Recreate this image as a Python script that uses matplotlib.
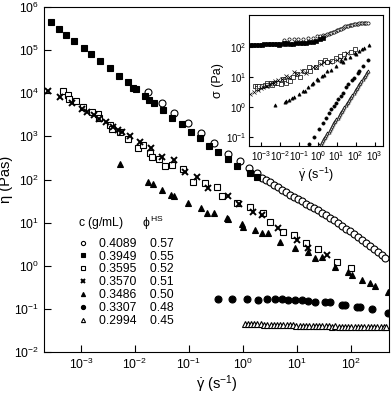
import numpy as np
import matplotlib.pyplot as plt

plt.rcParams['font.family'] = ['Liberation Sans', 'DejaVu Sans']
plt.rcParams['mathtext.fontset'] = 'custom'
plt.rcParams['mathtext.rm'] = 'Liberation Sans'
plt.rcParams['mathtext.it'] = 'Liberation Sans'

# concentrations and hard-sphere volume fractions
conc = ['0.4089', '0.3949', '0.3595', '0.3570', '0.3486', '0.3307', '0.2994']
phi_hs = ['0.57', '0.55', '0.52', '0.51', '0.50', '0.48', '0.45']

# shear rate (1/s) and viscosity (Pa s)
rate_4089 = [0.0172, 0.0312, 0.0535, 0.0946, 0.165, 0.29, 0.535, 0.88, 1.29, 1.84,
             2.25, 2.67, 3.16, 3.75, 4.45, 5.27, 6.25, 7.41, 8.79, 10.4, 12.4, 14.7,
             17.4, 20.6, 24.5, 29.0, 34.4, 40.8, 48.4, 57.4, 68.1, 80.7, 95.7, 114,
             135, 160, 190, 225, 267, 316, 375, 427]
eta_4089 = [1.05e4, 6.0e3, 3.47e3, 2.0e3, 1.17e3, 689, 388, 267, 181, 139,
            108, 96.8, 87.1, 76.2, 66.7, 58.4, 51.1, 44.7, 39.1, 35.1, 31.5, 27.6,
            24.1, 21.7, 19.5, 17.1, 14.9, 13.1, 11.4, 9.73, 8.29, 7.26, 6.35, 5.41,
            4.61, 3.93, 3.34, 2.85, 2.43, 2.07, 1.76, 1.50]

rate_3949 = [2.75e-4, 3.9e-4, 5.4e-4, 7.6e-4, 1.12e-3, 1.53e-3, 2.3e-3, 3.4e-3, 5.1e-3,
             7.3e-3, 9.1e-3, 1.06e-2, 1.55e-2, 1.84e-2, 2.28e-2, 3.26e-2, 4.9e-2, 7.5e-2,
             0.109, 0.16, 0.238, 0.35, 0.535, 0.78, 1.35, 1.8]
eta_3949 = [4.4e5, 3.1e5, 2.24e5, 1.63e5, 1.1e5, 8.2e4, 5.6e4, 3.8e4, 2.55e4,
            1.79e4, 1.32e4, 1.25e4, 8.7e3, 6.95e3, 6.0e3, 4.07e3, 2.6e3, 1.93e3,
            1.26e3, 900, 605, 440, 292, 205, 139, 112]

rate_3595 = [4.58e-4, 5.82e-4, 6.0e-4, 8.07e-4, 1.10e-3, 1.58e-3, 2.09e-3, 2.18e-3,
             3.44e-3, 3.71e-3, 5.27e-3, 7.52e-3, 1.15e-2, 1.43e-2, 1.90e-2, 2.04e-2,
             2.78e-2, 3.60e-2, 4.79e-2, 7.83e-2, 0.120, 0.198, 0.326, 0.404, 0.783,
             1.35, 2.32, 3.16, 5.57, 8.91, 14.7, 24.8, 55.7, 98.6]
eta_3595 = [1.12e4, 9.08e3, 7.45e3, 6.59e3, 4.86e3, 3.66e3, 3.24e3, 2.62e3,
            1.83e3, 1.48e3, 1.28e3, 851, 543, 628, 403, 326,
            293, 205, 216, 171, 88.5, 81.3, 67.7, 41.2, 28.8,
            23.3, 16.3, 10.4, 6.12, 5.13, 3.40, 2.39, 1.23, 0.865]

rate_3570 = [2.48e-4, 4.08e-4, 6.7e-4, 1.06e-3, 1.28e-3, 1.74e-3, 2.15e-3, 2.86e-3,
             3.96e-3, 4.79e-3, 5.82e-3, 8.07e-3, 1.24e-2, 1.98e-2, 3.12e-2, 5.27e-2,
             8.43e-2, 0.139, 0.228, 0.535, 0.853, 1.55, 2.22, 4.51, 9.87, 16.2, 36.4]
eta_3570 = [1.12e4, 8.3e3, 5.83e3, 4.23e3, 3.72e3, 3.07e3, 2.48e3, 2.11e3,
            1.67e3, 1.40e3, 1.28e3, 1.02e3, 738, 543, 336, 282,
            151, 116, 62.2, 41.2, 26.4, 17.8, 14.9, 7.33, 3.93, 2.52, 1.76]

rate_3486 = [5.27e-3, 1.76e-2, 2.13e-2, 3.12e-2, 4.58e-2, 5.27e-2, 9.7e-2, 0.167, 0.213,
             0.290, 0.499, 0.535, 0.946, 1.01, 1.67, 2.22, 2.94, 4.84, 9.18, 16.2,
             21.5, 28.6, 50.6, 89.1, 103, 158, 225, 278, 484]
eta_3486 = [224, 88.5, 76.9, 56.8, 43.4, 41.2, 27.9, 21.7, 16.9,
            16.9, 12.5, 11.9, 9.22, 8.0, 6.7, 5.61, 5.61, 3.59, 2.52, 2.10,
            1.48, 1.61, 0.942, 0.721, 0.605, 0.463, 0.388, 0.336, 0.248]

rate_3307 = [0.349, 0.618, 1.17, 1.92, 2.75, 3.92, 5.21, 6.90, 9.18, 12.2, 16.2, 21.5,
             33.0, 40.8, 67.3, 77.5, 128, 147, 242, 478]
eta_3307 = [0.174, 0.165, 0.165, 0.159, 0.165, 0.165, 0.165, 0.159, 0.159, 0.159,
            0.153, 0.145, 0.145, 0.145, 0.122, 0.122, 0.111, 0.111, 0.0968, 0.0782]

rate_2994 = [1.07, 1.23, 1.41, 1.62, 1.86, 2.14, 2.45, 2.82, 3.24, 3.72, 4.27, 4.90,
             5.62, 6.46, 7.41, 8.51, 9.77, 11.2, 12.9, 14.8, 17.0, 19.5, 22.4, 25.7,
             29.5, 33.9, 38.9, 44.7, 51.3, 58.9, 67.6, 77.6, 89.1, 102, 117, 135, 155,
             178, 204, 234, 269, 309, 355, 407, 447]
eta_2994 = [0.045, 0.045, 0.044, 0.044, 0.045, 0.044, 0.043, 0.043, 0.043, 0.042,
            0.043, 0.042, 0.042, 0.042, 0.043, 0.042, 0.041, 0.041, 0.041, 0.040,
            0.041, 0.040, 0.040, 0.040, 0.041, 0.040, 0.040, 0.039, 0.040, 0.039,
            0.039, 0.039, 0.039, 0.039, 0.038, 0.038, 0.039, 0.038, 0.038, 0.038,
            0.037, 0.037, 0.038, 0.037, 0.037]

rates = [rate_4089, rate_3949, rate_3595, rate_3570, rate_3486, rate_3307, rate_2994]
etas = [eta_4089, eta_3949, eta_3595, eta_3570, eta_3486, eta_3307, eta_2994]
markers = ['o', 's', 's', 'x', '^', 'o', '^']
filled = [False, True, False, True, True, True, False]

fig = plt.figure(figsize=(3.92, 3.94), dpi=100)
ax = fig.add_axes([0.1122, 0.1066, 0.8801, 0.8756])

for r, e, m, f, c, p in zip(rates, etas, markers, filled, conc, phi_hs):
    ax.plot(r, e, ls='none', marker=m, ms=5, mfc='k' if f else 'white',
            mec='k', mew=1.4 if m == 'x' else 0.8, label=f'{c}    {p}')

ax.set_xscale('log')
ax.set_yscale('log')
ax.set_xlim(2.07e-4, 506)
ax.set_ylim(1e-2, 1e6)
ax.set_xticks([1e-3, 1e-2, 1e-1, 1, 10, 100])
ax.set_yticks([1e-2, 1e-1, 1, 10, 100, 1e3, 1e4, 1e5, 1e6])
ax.tick_params(which='major', direction='in', length=5, labelsize=8.7, pad=3.5)
ax.tick_params(which='minor', length=0)
ax.set_ylabel('η (Pas)', fontsize=10.5, labelpad=0.5)
ax.set_xlabel(r'$\dot{\gamma}$ (s$^{-1}$)', fontsize=10.5, labelpad=1)

leg = ax.legend(loc='upper left', bbox_to_anchor=(0.099, 0.4), frameon=False,
                title='c (g/mL)      $\\phi^{\\rm HS}$', alignment='left',
                fontsize=8.7, title_fontsize=8.7, handlelength=0.8,
                handletextpad=0.9, labelspacing=0.07, markerscale=0.6,
                borderpad=0, borderaxespad=0)
leg._legend_box.sep = 4  # extra gap below the header

# inset: shear stress = viscosity * shear rate
axi = fig.add_axes([0.635, 0.6294, 0.342, 0.3326])
for r, e, m, f in zip(rates, etas, markers, filled):
    r = np.array(r)
    s = np.array(e) * r
    axi.plot(r, s, ls='none', marker=m, ms=2.3, mfc='k' if f else 'white',
             mec='k', mew=0.5)
axi.set_xscale('log')
axi.set_yscale('log')
axi.set_xlim(2.3e-4, 2.8e3)
axi.set_ylim(0.052, 1.2e3)
axi.set_xticks([1e-3, 1e-2, 1e-1, 1, 10, 100, 1000])
axi.set_yticks([0.1, 1, 10, 100])
axi.tick_params(which='major', direction='in', length=3, labelsize=7, pad=2)
axi.tick_params(which='minor', length=0)
axi.set_ylabel('σ (Pa)', fontsize=9, labelpad=1)
axi.set_xlabel(r'$\dot{\gamma}$ (s$^{-1}$)', fontsize=9, labelpad=2)

fig.savefig('out.png', dpi=100)
